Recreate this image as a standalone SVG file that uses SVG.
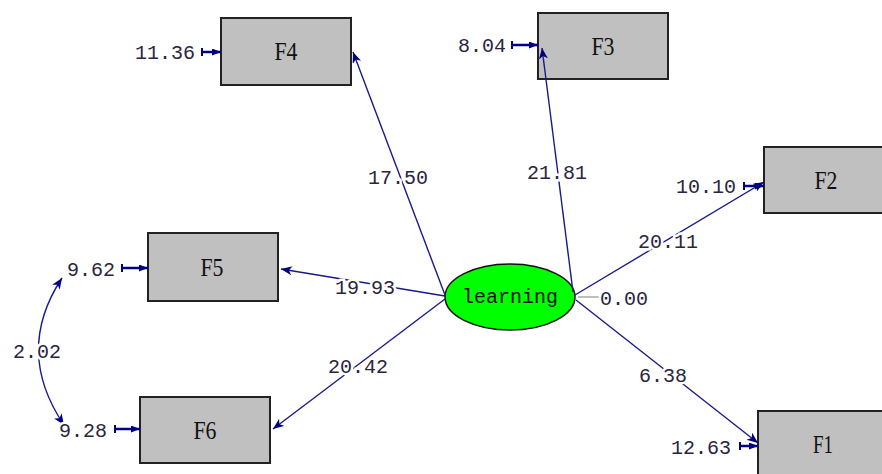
<svg xmlns="http://www.w3.org/2000/svg" width="882" height="474" viewBox="0 0 882 474">
<defs>
<marker id="ah" markerUnits="userSpaceOnUse" markerWidth="12" markerHeight="10" refX="11" refY="4.5" orient="auto-start-reverse"><path d="M0,0 L11,4.5 L0,9 L3,4.5 z" fill="#000080"/></marker>
<marker id="sh" markerUnits="userSpaceOnUse" markerWidth="10" markerHeight="8" refX="9" refY="3.5" orient="auto"><path d="M0,0 L9,3.5 L0,7 z" fill="#000080"/></marker>
<marker id="tk" markerUnits="userSpaceOnUse" markerWidth="3" markerHeight="10" refX="1" refY="4" orient="auto"><rect x="0" y="0" width="2" height="8" fill="#000080"/></marker>
</defs>
<style>
.box{fill:#c0c0c0;stroke:#222;stroke-width:2}
.bl{font-family:"Liberation Serif",serif;font-size:25px;fill:#111;text-anchor:middle}
.num{font-family:"Liberation Mono",monospace;font-size:20px;fill:#2a2440;text-anchor:middle;paint-order:stroke;stroke:#fff;stroke-width:5px}
.p{stroke:#1a1a8a;stroke-width:1.4;fill:none;marker-end:url(#ah)}
.e{stroke:#000080;stroke-width:2.5;fill:none;marker-end:url(#sh);marker-start:url(#tk)}
</style>
<rect width="882" height="474" fill="#fff"/>
<g id="F4"><rect class="box" x="221" y="18" width="130" height="67"/><text class="bl" x="286" y="60" textLength="23" lengthAdjust="spacingAndGlyphs">F4</text></g>
<g id="F3"><rect class="box" x="538" y="13" width="130" height="66"/><text class="bl" x="603" y="55" textLength="23" lengthAdjust="spacingAndGlyphs">F3</text></g>
<g id="F2"><rect class="box" x="764" y="147" width="130" height="66"/><text class="bl" x="826" y="189" textLength="23" lengthAdjust="spacingAndGlyphs">F2</text></g>
<g id="F5"><rect class="box" x="148" y="233" width="130" height="68"/><text class="bl" x="212" y="276" textLength="23" lengthAdjust="spacingAndGlyphs">F5</text></g>
<g id="F6"><rect class="box" x="140" y="397" width="130" height="66"/><text class="bl" x="205" y="439" textLength="23" lengthAdjust="spacingAndGlyphs">F6</text></g>
<g id="F1"><rect class="box" x="758" y="411" width="130" height="66"/><text class="bl" x="823" y="453" textLength="20" lengthAdjust="spacingAndGlyphs">F1</text></g>
<g id="learning"><ellipse cx="510" cy="297" rx="65" ry="33" fill="#00ff00" stroke="#111" stroke-width="1.5"/><text x="510" y="303" font-family="Liberation Mono,monospace" font-size="20" text-anchor="middle" fill="#111">learning</text></g>
<g id="connectors">
<line class="p" x1="445" y1="295" x2="353" y2="52"/>
<line class="p" x1="573" y1="292" x2="542" y2="48"/>
<line class="p" x1="575" y1="295" x2="764" y2="182"/>
<line class="p" x1="445" y1="296" x2="281" y2="269"/>
<line class="p" x1="445" y1="299" x2="273" y2="429"/>
<line class="p" x1="576" y1="300" x2="758" y2="443"/>
<line x1="578" y1="297" x2="604" y2="297" stroke="#aaa" stroke-width="1.5"/>
<line class="e" x1="202" y1="52" x2="221" y2="52"/>
<line class="e" x1="512" y1="45" x2="538" y2="45"/>
<line class="e" x1="744" y1="186" x2="764" y2="186"/>
<line class="e" x1="122" y1="268" x2="148" y2="268"/>
<line class="e" x1="115" y1="429" x2="140" y2="429"/>
<line class="e" x1="740" y1="446" x2="758" y2="446"/>
<path d="M62,278 Q14,351 64,425" stroke="#1a1a8a" stroke-width="1.4" fill="none" marker-start="url(#ah)" marker-end="url(#ah)"/>
</g>
<g id="labels">
<text class="num" x="398" y="184">17.50</text>
<text class="num" x="557" y="179">21.81</text>
<text class="num" x="668" y="248">20.11</text>
<text class="num" x="365" y="294">19.93</text>
<text class="num" x="624" y="305">0.00</text>
<text class="num" x="358" y="373">20.42</text>
<text class="num" x="663" y="382">6.38</text>
<text class="num" x="165" y="59">11.36</text>
<text class="num" x="482" y="52">8.04</text>
<text class="num" x="706" y="193">10.10</text>
<text class="num" x="91" y="276">9.62</text>
<text class="num" x="83" y="437">9.28</text>
<text class="num" x="701" y="454">12.63</text>
<text class="num" x="37" y="358">2.02</text>
</g>
</svg>
